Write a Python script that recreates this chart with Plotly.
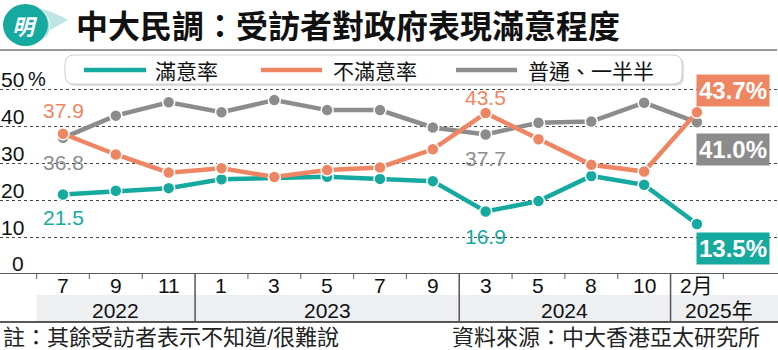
import plotly.graph_objects as go

# ---------------- data ----------------
months = ["7", "9", "11", "1", "3", "5", "7", "9", "3", "5", "8", "10", "2月"]
years = ["2022", "2023", "2024", "2025年"]
year_spans = [(0, 2), (3, 7), (8, 11), (12, 12)]
satisfied = [21.5, 22.5, 23.2, 25.6, 26.0, 26.3, 25.7, 25.1, 16.9, 19.7, 26.5, 24.1, 13.5]
dissatisfied = [37.9, 32.3, 27.4, 28.6, 26.2, 28.1, 28.8, 33.7, 43.5, 36.4, 29.5, 27.7, 43.7]
neutral = [36.8, 42.8, 46.4, 43.7, 47.0, 44.3, 44.3, 39.6, 37.7, 40.9, 41.2, 46.3, 41.0]
series_names = ["滿意率", "不滿意率", "普通、一半半"]
y_ticks = [0, 10, 20, 30, 40, 50]

TEAL = "#16A9A0"
ORANGE = "#EF8663"
GRAY = "#8C8C8C"
FONT = "Liberation Sans, Noto Sans CJK TC, sans-serif"

W, H = 778, 350
T, B = 50, 76
PH = H - T - B


def px(x):
    return x / W


def py(y):
    return (H - B - y) / PH


xs = list(range(len(months)))
fig = go.Figure()

for vals, col in [(neutral, GRAY), (satisfied, TEAL), (dissatisfied, ORANGE)]:
    fig.add_trace(go.Scatter(
        x=xs, y=vals, mode="lines+markers",
        line=dict(color=col, width=4.5),
        marker=dict(size=12, color=col, line=dict(color="white", width=1.5)),
        showlegend=False, hoverinfo="skip"))

shapes = []
ann = []

# title line
shapes.append(dict(type="line", xref="paper", yref="paper", x0=0, x1=px(777),
                   y0=1, y1=1, line=dict(color="#777777", width=1.5)))
# axis line at 0
shapes.append(dict(type="line", xref="paper", yref="y", x0=0, x1=1, y0=0, y1=0,
                   line=dict(color="#222222", width=1.5)))
# year band
shapes.append(dict(type="rect", xref="x", yref="paper", x0=-0.5, x1=14,
                   y0=py(322), y1=py(295), fillcolor="#EDEFF1", line=dict(width=0),
                   layer="below"))
# bottom line
shapes.append(dict(type="line", xref="paper", yref="paper", x0=0, x1=1,
                   y0=py(322), y1=py(322), line=dict(color="#222222", width=1.5)))
# separators and ticks
seps = [s[0] - 0.5 for s in year_spans[1:]]
for b in [i - 0.5 for i in range(len(months) + 1)]:
    if b in seps:
        shapes.append(dict(type="line", xref="x", yref="paper", x0=b, x1=b,
                           y0=py(322), y1=0, line=dict(color="#555555", width=1.5)))
    else:
        shapes.append(dict(type="line", xref="x", yref="paper", x0=b, x1=b,
                           y0=py(279), y1=0, line=dict(color="#777777", width=1.2)))

# month labels
for i, m in enumerate(months):
    ann.append(dict(x=i, y=py(285), xref="x", yref="paper", text=m, showarrow=False,
                    font=dict(size=21, color="#111111", family=FONT), xanchor="center", yanchor="middle"))
# year labels
for (a, b), yr in zip(year_spans, years):
    cx = (a + b) / 2 if yr != years[-1] else a + 0.42
    ann.append(dict(x=cx, y=py(310), xref="x", yref="paper", text=yr, showarrow=False,
                    font=dict(size=21, color="#111111", family=FONT), xanchor="center", yanchor="middle"))

# y labels
for v in y_ticks:
    ann.append(dict(x=px(26), y=v, xref="paper", yref="y", text=str(v), showarrow=False,
                    xanchor="right", yanchor="middle", yshift=10 if v else 11,
                    font=dict(size=21, color="#111111", family=FONT)))
ann.append(dict(x=px(26), y=y_ticks[-1], xref="paper", yref="y", text="%", showarrow=False,
                xanchor="left", yanchor="middle", yshift=10,
                font=dict(size=20, color="#111111", family=FONT)))

# value labels
def vlab(i, vals, col, ys):
    ann.append(dict(x=i, y=vals[i], xref="x", yref="y", text=f"{vals[i]:.1f}", showarrow=False,
                    xanchor="center", yanchor="middle", yshift=ys,
                    font=dict(size=21, color=col, family=FONT)))

vlab(0, dissatisfied, ORANGE, 23)
vlab(0, neutral, GRAY, -25)
vlab(0, satisfied, TEAL, -23)
vlab(8, dissatisfied, ORANGE, 16)
vlab(8, neutral, GRAY, -23.5)
vlab(8, satisfied, TEAL, -25.5)

# end labels
last = len(months) - 1
for vals, col, ys in [(dissatisfied, ORANGE, 22), (neutral, GRAY, -27), (satisfied, TEAL, -24)]:
    ann.append(dict(x=last, y=vals[last], xref="x", yref="y", text=f"<b>{vals[last]:.1f}%</b>",
                    showarrow=False, xanchor="center", yanchor="middle", xshift=36, yshift=ys,
                    bgcolor=col, borderpad=2,
                    font=dict(size=24, color="white", family=FONT)))

# legend box
def rrect(x0, y0, x1, y1, r):
    X0, X1 = px(x0), px(x1)
    return (f"M {px(x0 + r)},{py(y0)} L {px(x1 - r)},{py(y0)} Q {X1},{py(y0)} {X1},{py(y0 + r)} "
            f"L {X1},{py(y1 - r)} Q {X1},{py(y1)} {px(x1 - r)},{py(y1)} L {px(x0 + r)},{py(y1)} "
            f"Q {X0},{py(y1)} {X0},{py(y1 - r)} L {X0},{py(y0 + r)} Q {X0},{py(y0)} {px(x0 + r)},{py(y0)} Z")

shapes.append(dict(type="path", xref="paper", yref="paper", path=rrect(67, 57, 684, 86, 9),
                   fillcolor="#DDDDDD", line=dict(width=0)))
shapes.append(dict(type="path", xref="paper", yref="paper", path=rrect(65, 55, 682, 84, 9),
                   fillcolor="white", line=dict(color="#CFCFCF", width=1)))
leg = [(84, 146, 153, TEAL), (261, 322, 331, ORANGE), (456, 517, 526, GRAY)]
for (l0, l1, tx, col), name in zip(leg, series_names):
    shapes.append(dict(type="line", xref="paper", yref="paper", x0=px(l0), x1=px(l1),
                       y0=py(70), y1=py(70), line=dict(color=col, width=4.5)))
    ann.append(dict(x=px(tx), y=py(71), xref="paper", yref="paper", text=name, showarrow=False,
                    xanchor="left", yanchor="middle",
                    font=dict(size=21, color="#111111", family=FONT)))

# logo
shapes.append(dict(type="path", xref="paper", yref="paper",
                   path=f"M {px(40)},{py(8)} Q {px(58)},{py(14)} {px(68)},{py(20)} "
                        f"Q {px(58)},{py(26)} {px(50)},{py(30)} Q {px(52)},{py(18)} {px(40)},{py(8)} Z",
                   fillcolor="#BFE5E2", line=dict(width=0)))
shapes.append(dict(type="path", xref="paper", yref="paper",
                   path=f"M {px(42)},{py(10)} Q {px(56)},{py(26)} {px(44)},{py(40)} "
                        f"Q {px(52)},{py(26)} {px(42)},{py(10)} Z",
                   fillcolor="#A9DDD9", line=dict(width=0)))
shapes.append(dict(type="circle", xref="paper", yref="paper", x0=px(3), x1=px(48),
                   y0=py(46), y1=py(4), fillcolor=TEAL, line=dict(width=0)))
ann.append(dict(x=px(25), y=py(25), xref="paper", yref="paper", text="<b><i>明</i></b>",
                showarrow=False, xanchor="center", yanchor="middle",
                font=dict(size=22, color="white", family="Noto Sans CJK TC")))

# title
ann.append(dict(x=px(74), y=py(24), xref="paper", yref="paper",
                text="<b>中大民調：受訪者對政府表現滿意程度</b>", showarrow=False,
                xanchor="left", yanchor="middle",
                font=dict(size=32, color="#111111", family="Noto Sans CJK TC")))

# footer
ann.append(dict(x=px(1), y=py(337), xref="paper", yref="paper",
                text="註：其餘受訪者表示不知道/很難說", showarrow=False,
                xanchor="left", yanchor="middle",
                font=dict(size=22, color="#222222", family=FONT)))
ann.append(dict(x=px(762), y=py(337), xref="paper", yref="paper",
                text="資料來源：中大香港亞太研究所", showarrow=False,
                xanchor="right", yanchor="middle",
                font=dict(size=22, color="#222222", family=FONT)))

fig.update_layout(
    width=W, height=H, margin=dict(l=0, r=0, t=T, b=B),
    paper_bgcolor="white", plot_bgcolor="white",
    xaxis=dict(range=[-63 / 52.83, (W - 63) / 52.83], visible=False, fixedrange=True),
    yaxis=dict(range=[0, PH / 3.7], tickvals=y_ticks[1:], showticklabels=False,
               showgrid=True, gridcolor="#444444", griddash="dot", gridwidth=1,
               zeroline=False, fixedrange=True),
    shapes=shapes, annotations=ann, showlegend=False,
)

fig.write_html("out.html")
